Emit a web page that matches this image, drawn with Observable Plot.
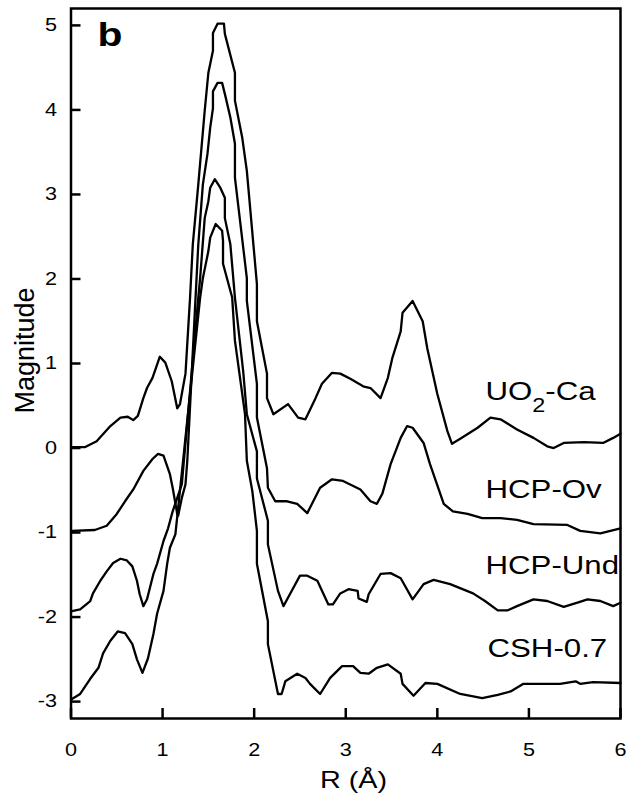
<!DOCTYPE html>
<html><head><meta charset="utf-8">
<script src="https://cdn.jsdelivr.net/npm/d3@7"></script>
<script src="https://cdn.jsdelivr.net/npm/@observablehq/plot@0.6"></script>
<style>html,body{margin:0;padding:0;background:#fff;}</style>
</head><body><div id="chart"></div>
<script>
const seriesNames = ["UO2-Ca", "HCP-Ov", "HCP-Und", "CSH-0.7"];

const uo2Ca = [[0.01,0.01],[0.15,0.01],[0.28,0.08],[0.43,0.26],[0.54,0.36],[0.62,0.37],[0.68,0.33],[0.73,0.38],[0.79,0.59],[0.83,0.71],[0.89,0.83],[0.97,1.08],[1.03,1.01],[1.10,0.79],[1.16,0.47],[1.19,0.52],[1.25,0.88],[1.30,1.78],[1.33,2.41],[1.39,3.12],[1.46,3.99],[1.50,4.44],[1.55,4.70],[1.55,4.91],[1.60,5.02],[1.67,5.02],[1.68,4.90],[1.79,4.44],[1.79,4.11],[1.87,3.67],[1.92,3.28],[2.03,1.94],[2.03,1.50],[2.14,0.88],[2.14,0.59],[2.21,0.40],[2.37,0.52],[2.48,0.36],[2.56,0.34],[2.67,0.59],[2.74,0.76],[2.85,0.89],[2.94,0.88],[3.05,0.82],[3.19,0.73],[3.27,0.71],[3.38,0.59],[3.46,0.83],[3.51,1.07],[3.60,1.38],[3.62,1.60],[3.73,1.74],[3.84,1.50],[3.89,1.18],[4.00,0.64],[4.11,0.20],[4.16,0.05],[4.25,0.11],[4.44,0.24],[4.58,0.36],[4.69,0.34],[4.87,0.22],[5.05,0.12],[5.20,0.02],[5.27,0.00],[5.38,0.06],[5.60,0.07],[5.81,0.06],[5.92,0.12],[6.00,0.17]];

const hcpOv = [[0.01,-0.98],[0.26,-0.97],[0.39,-0.92],[0.50,-0.78],[0.59,-0.63],[0.68,-0.49],[0.79,-0.27],[0.89,-0.13],[0.95,-0.07],[1.01,-0.09],[1.08,-0.31],[1.11,-0.47],[1.16,-0.78],[1.17,-0.80],[1.21,-0.59],[1.25,-0.43],[1.27,-0.15],[1.36,1.78],[1.39,2.41],[1.44,3.12],[1.49,3.48],[1.52,3.79],[1.55,4.02],[1.55,4.22],[1.60,4.32],[1.65,4.32],[1.68,4.19],[1.74,3.91],[1.79,3.60],[1.79,3.20],[1.92,2.01],[1.92,1.74],[2.03,0.76],[2.03,0.36],[2.14,-0.24],[2.15,-0.47],[2.23,-0.63],[2.36,-0.63],[2.47,-0.66],[2.58,-0.77],[2.72,-0.47],[2.85,-0.37],[2.97,-0.39],[3.16,-0.49],[3.27,-0.63],[3.34,-0.66],[3.40,-0.54],[3.49,-0.19],[3.60,0.12],[3.67,0.26],[3.73,0.24],[3.85,0.06],[3.92,-0.19],[4.07,-0.66],[4.17,-0.75],[4.33,-0.78],[4.49,-0.83],[4.69,-0.83],[4.87,-0.85],[5.05,-0.90],[5.42,-0.91],[5.56,-0.98],[5.78,-1.01],[6.00,-0.95]];

const hcpUnd = [[0.01,-1.93],[0.10,-1.91],[0.21,-1.81],[0.24,-1.72],[0.32,-1.57],[0.39,-1.46],[0.46,-1.36],[0.54,-1.31],[0.61,-1.33],[0.67,-1.40],[0.72,-1.57],[0.75,-1.73],[0.79,-1.87],[0.83,-1.79],[0.90,-1.49],[0.94,-1.37],[1.01,-1.10],[1.06,-0.95],[1.11,-0.75],[1.21,-0.43],[1.39,1.78],[1.41,2.01],[1.46,2.72],[1.50,2.92],[1.52,3.08],[1.57,3.18],[1.63,3.08],[1.68,2.96],[1.68,2.72],[1.74,2.41],[1.79,1.78],[1.88,0.91],[1.92,0.40],[2.03,-0.04],[2.03,-0.36],[2.15,-0.86],[2.15,-1.14],[2.26,-1.69],[2.32,-1.87],[2.39,-1.73],[2.50,-1.51],[2.58,-1.51],[2.69,-1.57],[2.81,-1.85],[2.86,-1.85],[2.94,-1.72],[3.03,-1.67],[3.13,-1.69],[3.14,-1.78],[3.23,-1.82],[3.25,-1.73],[3.38,-1.49],[3.49,-1.48],[3.60,-1.54],[3.73,-1.79],[3.85,-1.61],[3.96,-1.56],[4.14,-1.61],[4.39,-1.72],[4.52,-1.81],[4.66,-1.92],[4.77,-1.92],[4.87,-1.87],[5.05,-1.79],[5.20,-1.81],[5.38,-1.88],[5.53,-1.83],[5.64,-1.79],[5.78,-1.81],[5.92,-1.87],[6.00,-1.83]];

const csh07 = [[0.01,-2.97],[0.10,-2.91],[0.21,-2.73],[0.30,-2.60],[0.35,-2.43],[0.43,-2.28],[0.51,-2.17],[0.59,-2.19],[0.67,-2.32],[0.72,-2.50],[0.78,-2.66],[0.84,-2.49],[0.90,-2.20],[0.94,-1.96],[1.01,-1.69],[1.05,-1.37],[1.08,-1.18],[1.14,-1.02],[1.41,1.78],[1.44,2.01],[1.50,2.33],[1.52,2.49],[1.58,2.65],[1.65,2.57],[1.66,2.45],[1.66,2.18],[1.76,1.78],[1.79,1.27],[1.90,0.40],[1.92,-0.15],[1.98,-0.51],[2.03,-0.98],[2.03,-1.37],[2.15,-2.05],[2.15,-2.32],[2.26,-2.91],[2.30,-2.91],[2.34,-2.76],[2.47,-2.67],[2.56,-2.72],[2.61,-2.79],[2.72,-2.91],[2.83,-2.72],[2.96,-2.58],[3.08,-2.58],[3.16,-2.66],[3.25,-2.67],[3.34,-2.60],[3.46,-2.56],[3.60,-2.67],[3.62,-2.79],[3.74,-2.93],[3.87,-2.78],[4.00,-2.79],[4.25,-2.91],[4.49,-2.96],[4.66,-2.92],[4.80,-2.88],[4.94,-2.79],[5.16,-2.79],[5.34,-2.79],[5.51,-2.76],[5.56,-2.79],[5.70,-2.77],[6.00,-2.78]];

const xTicks = [0, 1, 2, 3, 4, 5, 6];
const yTicks = [-3, -2, -1, 0, 1, 2, 3, 4, 5];

const rows = [];
[uo2Ca, hcpOv, hcpUnd, csh07].forEach((s, i) =>
  s.forEach(([r, m]) => rows.push({series: seriesNames[i], r, m})));

const FONT = "'Liberation Sans', Arial, Helvetica, sans-serif";

const plot = Plot.plot({
  width: 626, height: 796,
  marginLeft: 70.5, marginRight: 6, marginTop: 8, marginBottom: 78,
  style: {fontFamily: FONT, fontSize: "18px", color: "black", background: "white"},
  x: {domain: [0, 6], label: null},
  y: {domain: [-3.2, 5.2], label: null},
  marks: [
    Plot.line(rows, {x: "r", y: "m", z: "series", stroke: "black", strokeWidth: 2.3, strokeLinejoin: "round"}),
    Plot.axisX({ticks: xTicks, tickSize: 0, tickPadding: 25, tickFormat: d => String(d), label: null}),
    Plot.axisY({ticks: yTicks, tickSize: 0, tickPadding: 14, tickFormat: d => String(d), label: null}),
    Plot.text([seriesNames[0]], {x: 4.526, y: 0.79, textAnchor: "start", lineAnchor: "top", fontSize: 26}),
    Plot.text([seriesNames[1]], {x: 4.526, y: -0.37, textAnchor: "start", lineAnchor: "top", fontSize: 26}),
    Plot.text([seriesNames[2]], {x: 4.526, y: -1.27, textAnchor: "start", lineAnchor: "top", fontSize: 26}),
    Plot.text([seriesNames[3]], {x: 4.548, y: -2.25, textAnchor: "start", lineAnchor: "top", fontSize: 26}),
    Plot.text(["b"], {frameAnchor: "top-left", dx: 26.5, dy: 13, textAnchor: "start", lineAnchor: "top", fontSize: 34, fontWeight: "bold"}),
    Plot.text(["Magnitude"], {frameAnchor: "left", rotate: -90, dx: -46, dy: -13, textAnchor: "middle", lineAnchor: "middle", fontSize: 27}),
    Plot.text(["R (Å)"], {frameAnchor: "bottom", dx: 7.75, dy: 52, textAnchor: "middle", lineAnchor: "top", fontSize: 24}),
    // frame and inward ticks (outward ticks shifted back inside the frame)
    Plot.frame({stroke: "black", strokeWidth: 2.5}),
    Plot.axisX({ticks: xTicks, tickSize: 10, dy: -10, strokeWidth: 2.5, tickFormat: () => "", label: null}),
    Plot.axisY({ticks: yTicks, tickSize: 10, dx: 10, strokeWidth: 2.5, tickFormat: () => "", label: null})
  ]
});

document.getElementById("chart").append(plot);

// subscript in UO2-Ca
d3.select(plot).selectAll("text").each(function() {
  if (this.textContent === "UO2-Ca") {
    const t = d3.select(this);
    t.text(null);
    t.append("tspan").text("UO");
    t.append("tspan").attr("font-size", "19.5px").attr("dy", 12).text("2");
    t.append("tspan").attr("dy", -12).text("-Ca");
  }
});

// horizontal stretch of the lettering, as in the reference figure
d3.select(plot).selectAll("text").each(function() {
  const tr = this.getAttribute("transform") || "";
  if (tr.includes("rotate")) return;
  const len = this.getComputedTextLength();
  if (len > 0) {
    this.setAttribute("textLength", (len * 1.2).toFixed(2));
    this.setAttribute("lengthAdjust", "spacingAndGlyphs");
  }
});
</script>
</body></html>
